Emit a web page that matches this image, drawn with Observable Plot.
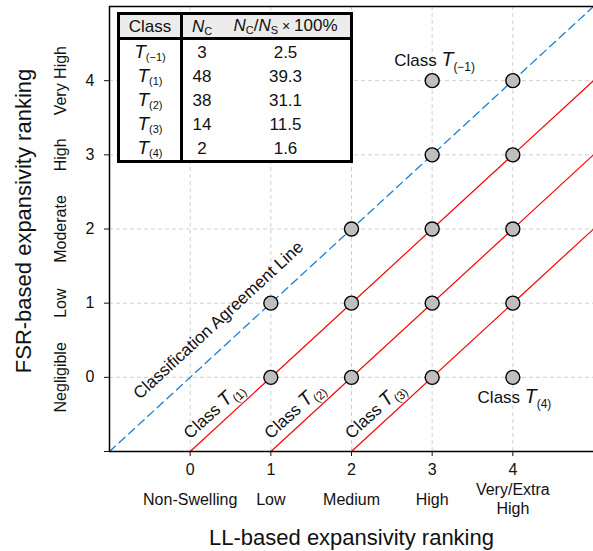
<!DOCTYPE html>
<html><head><meta charset="utf-8">
<script src="https://cdn.jsdelivr.net/npm/d3@7"></script>
<script src="https://cdn.jsdelivr.net/npm/@observablehq/plot@0.6"></script>
<style>
body{margin:0;background:#fff;}
#wrap{position:relative;width:593px;height:551px;font-family:"Liberation Sans",Arial,sans-serif;}
table{position:absolute;left:117px;top:12px;border-collapse:collapse;border:3px solid #000;background:#fff;font-size:17px;color:#111;}
td,th{padding:0;text-align:center;font-weight:normal;line-height:17px;white-space:nowrap}
td{height:24px}
th{height:22px;background:#ececec;border-bottom:3px solid #000}
.c1{border-right:3px solid #000;width:60px}
.c2{width:38px}
.c3{width:129px}
sub{font-size:11px;vertical-align:-3px;font-style:normal;line-height:0}
i{font-style:italic}
i.big{font-size:19px;line-height:0}
</style></head><body><div id="wrap"></div>
<script>
// ---- data ----
const axisDomain = [-1, 5];
const xTicks = [0, 1, 2, 3, 4];
const xCategories = ["Non-Swelling", "Low", "Medium", "High", "Very/Extra\nHigh"];
const yTicks = [0, 1, 2, 3, 4];
const yCategories = ["Negligible", "Low", "Moderate", "High", "Very High"];
const llRank  = [1, 1, 2, 2, 2, 3, 3, 3, 3, 3, 4, 4, 4, 4, 4];
const fsrRank = [0, 1, 0, 1, 2, 0, 1, 2, 3, 4, 0, 1, 2, 3, 4];
const classOffsets = [1, 2, 3];            // red lines: FSR = LL - k
const tableClass = ["(−1)", "(1)", "(2)", "(3)", "(4)"];
const tableNc = [3, 48, 38, 14, 2];
const tablePct = ["2.5", "39.3", "31.1", "11.5", "1.6"];

// annotation labels (data units)
const ang = -42.6;
const annotations = [
  {label: "Classification Agreement Line", x: 0.35, y: 0.77, rotate: ang},
  {label: "Class T(1)", x: 0.29, y: -0.45, rotate: ang},
  {label: "Class T(2)", x: 1.29, y: -0.45, rotate: ang},
  {label: "Class T(3)", x: 2.29, y: -0.45, rotate: ang},
  {label: "Class T(−1)", x: 3.03, y: 4.27, rotate: 0},
  {label: "Class T(4)", x: 4.02, y: -0.27, rotate: 0}
];

const points = llRank.map((x, i) => ({x, y: fsrRank[i]}));
const agree = axisDomain.map(v => ({x: v, y: v}));
const redLines = classOffsets.flatMap(k => [
  {k, x: axisDomain[0] + k, y: axisDomain[0]},
  {k, x: axisDomain[1], y: axisDomain[1] - k}
]);

const font = "Liberation Sans, Arial, sans-serif";
const plot = Plot.plot({
  width: 593, height: 551,
  marginLeft: 109, marginRight: 0, marginTop: 6, marginBottom: 100,
  style: {fontFamily: font, fontSize: "16px", color: "#111", background: "#fff", overflow: "visible"},
  x: {domain: axisDomain},
  y: {domain: axisDomain},
  marks: [
    Plot.gridX(xTicks, {stroke: "#cfcfcf", strokeOpacity: 1, strokeDasharray: "4,3"}),
    Plot.gridY(yTicks, {stroke: "#cfcfcf", strokeOpacity: 1, strokeDasharray: "4,3"}),
    Plot.line(agree, {x: "x", y: "y", stroke: "#1a7fd4", strokeWidth: 1.3, strokeDasharray: "8,5"}),
    Plot.line(redLines, {x: "x", y: "y", z: "k", stroke: "#ff0000", strokeWidth: 1.2}),
    Plot.ruleX([axisDomain[0]], {stroke: "#000", strokeWidth: 1.5}),
    Plot.ruleY(axisDomain, {stroke: "#000", strokeWidth: 1.5}),
    Plot.axisX(xTicks, {tickSize: 5, tickPadding: 7, fontSize: 16, label: null}),
    Plot.axisY([axisDomain[0], ...yTicks], {tickSize: 5, tickPadding: 10, fontSize: 16, label: null,
      tickFormat: d => d < 0 ? "" : d}),
    Plot.text(xCategories, {x: (d, i) => xTicks[i], text: d => d, frameAnchor: "bottom", dy: 47,
      lineAnchor: "middle", textAnchor: "middle", lineHeight: 1.2, fontSize: 16}),
    Plot.text(yCategories, {y: (d, i) => yTicks[i], text: d => d, frameAnchor: "left", dx: -49,
      textAnchor: "middle", lineAnchor: "middle", rotate: -90, fontSize: 16}),
    Plot.text(["LL-based expansivity ranking"], {frameAnchor: "bottom", dy: 86, lineAnchor: "middle",
      textAnchor: "middle", fontSize: 22}),
    Plot.text(["FSR-based expansivity ranking"], {frameAnchor: "left", dx: -86, dy: -8, rotate: -90,
      textAnchor: "middle", lineAnchor: "middle", fontSize: 22}),
    Plot.dot(points, {x: "x", y: "y", r: 7, fill: "#bebebe", stroke: "#000", strokeWidth: 1.4}),
    Plot.text(annotations, {x: "x", y: "y", text: "label", rotate: "rotate", fontSize: 17})
  ]
});

// rich text for class labels
const NS = "http://www.w3.org/2000/svg";
plot.querySelectorAll("text").forEach(t => {
  const m = t.textContent.match(/^Class T(\(.+\))$/);
  if (!m) return;
  t.textContent = "Class ";
  const tT = document.createElementNS(NS, "tspan");
  tT.setAttribute("font-style", "italic");
  tT.setAttribute("font-size", "1.15em");
  tT.textContent = "T";
  const tS = document.createElementNS(NS, "tspan");
  tS.setAttribute("font-size", "0.7em");
  tS.setAttribute("dy", "0.4em");
  tS.textContent = m[1];
  t.appendChild(tT); t.appendChild(tS);
});

const wrap = document.getElementById("wrap");
wrap.appendChild(plot);

// table
let html = '<table><tr><th class="c1">Class</th><th class="c2"><i>N</i><sub>C</sub></th>' +
  '<th class="c3"><i>N</i><sub>C</sub>/<i>N</i><sub>S</sub><span style="font-size:14px"> × </span>100%</th></tr>';
tableClass.forEach((c, i) => {
  html += `<tr><td class="c1"><i class="big">T</i><sub>${c}</sub></td><td class="c2">${tableNc[i]}</td><td class="c3">${tablePct[i]}</td></tr>`;
});
html += '</table>';
wrap.insertAdjacentHTML("beforeend", html);
</script></body></html>
